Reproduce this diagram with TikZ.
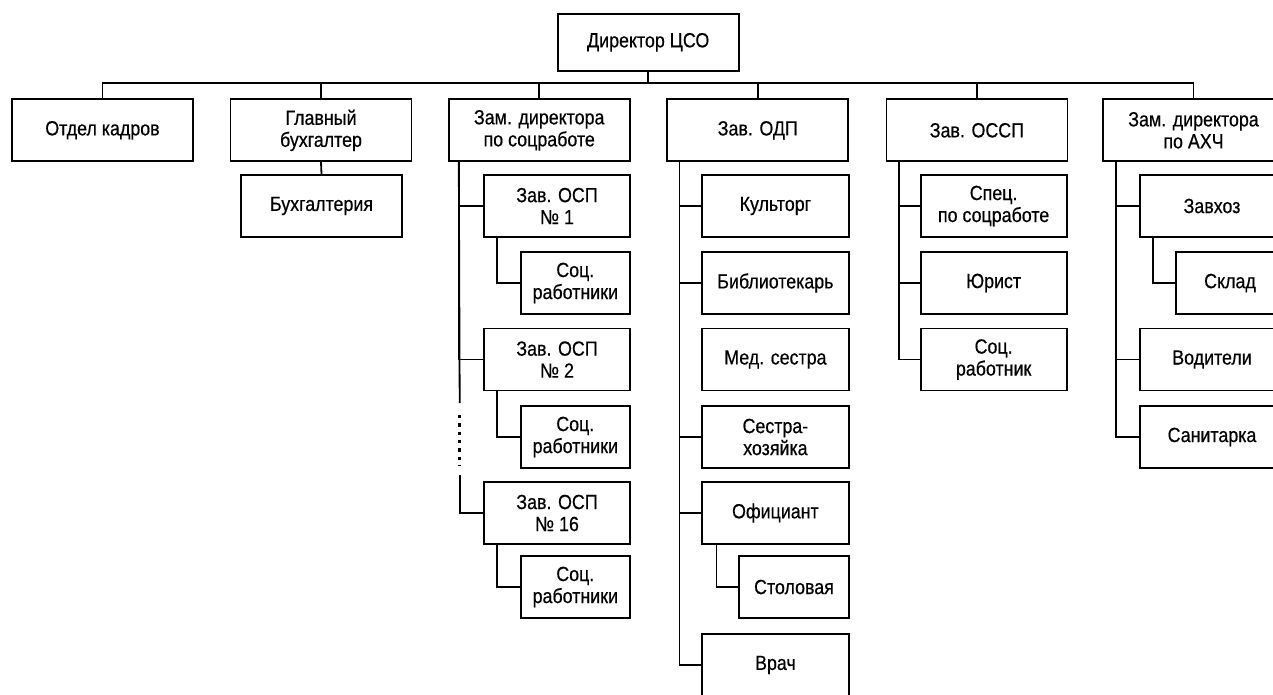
\documentclass[tikz,border=0pt]{standalone}
\usepackage{fontspec}
\setmainfont{Liberation Sans}[FakeStretch=0.87,FakeBold=0.5]
\begin{document}
\begin{tikzpicture}[x=1pt,y=-1pt,
  bx/.style={draw=black, line width=1.8pt, inner sep=0pt, align=center,
    font={\fontsize{20.5}{22}\selectfont}, minimum height=62pt},
  w1/.style={minimum width=181pt},
  w2/.style={minimum width=146pt},
  w3/.style={minimum width=109pt},
  ln/.style={line width=1.8pt},
  dots/.style={line width=2.8pt, dash pattern=on 3.3pt off 5pt}]
\useasboundingbox (0,0) rectangle (1273,694);
\clip (0,0) rectangle (1273,694);
% top
\node[bx,w1,minimum height=57pt] (dir) at (648.2,42.3) {Директор ЦСО};
% level 1
\node[bx,w1] (otdel) at (102.5,130.3) {Отдел кадров};
\node[bx,w1] (glav) at (321,130.3) {Главный\\бухгалтер};
\node[bx,w1] (zam) at (539.2,130.3) {Зам. директора\\по соцработе};
\node[bx,w1] (odp) at (757.8,130.3) {Зав. ОДП};
\node[bx,w1] (ossp) at (976.9,130.3) {Зав. ОССП};
\node[bx,w1] (axch) at (1193.5,130.3) {Зам. директора\\по АХЧ};
% accounting
\node[bx,minimum width=161pt] (buh) at (321.5,206) {Бухгалтерия};
% social work column
\node[bx,w2] (osp1) at (557,206) {Зав. ОСП\\№ 1};
\node[bx,w3] (soc1) at (575.3,283) {Соц.\\работники};
\node[bx,w2] (osp2) at (557,359.5) {Зав. ОСП\\№ 2};
\node[bx,w3] (soc2) at (575.3,437) {Соц.\\работники};
\node[bx,w2] (osp16) at (557,513) {Зав. ОСП\\№ 16};
\node[bx,w3] (soc16) at (575.3,587) {Соц.\\работники};
% ODP column
\node[bx,minimum width=147pt] (kult) at (775.4,206) {Культорг};
\node[bx,minimum width=147pt] (bibl) at (775.4,283) {Библиотекарь};
\node[bx,minimum width=147pt] (med) at (775.4,359.5) {Мед. сестра};
\node[bx,minimum width=147pt] (sestra) at (775.4,437) {Сестра-\\хозяйка};
\node[bx,minimum width=147pt] (ofic) at (775.4,513) {Официант};
\node[bx,minimum width=110pt] (stol) at (794,587) {Столовая};
\node[bx,minimum width=147pt] (vrach) at (775.4,665) {Врач};
% OSSP column
\node[bx,w2] (spec) at (993.6,206) {Спец.\\по соцработе};
\node[bx,w2] (yur) at (993.6,283) {Юрист};
\node[bx,w2] (socr) at (993.6,359.5) {Соц.\\работник};
% AXCh column
\node[bx,minimum width=144pt] (zavhoz) at (1212,206) {Завхоз};
\node[bx,minimum width=108pt] (sklad) at (1230,283) {Склад};
\node[bx,minimum width=144pt] (vodit) at (1212,359.5) {Водители};
\node[bx,minimum width=144pt] (sanit) at (1212,437) {Санитарка};
% bus
\coordinate (bus) at (0,83.3);
\draw[ln] (dir.south) -- (dir.south |- bus);
\draw[ln] (otdel.north) -- (otdel.north |- bus) -- (axch.north |- bus) -- (axch.north);
\foreach \n in {glav,zam,odp,ossp} \draw[ln] (\n.north) -- (\n.north |- bus);
\draw[ln] (glav.south) -- (buh.north);
% social work connectors
\coordinate (zamL) at ([xshift=11pt]zam.south west);
\coordinate (d1) at (459.7,403);
\coordinate (d2) at (459.7,415);
\coordinate (d3) at (459.7,466);
\coordinate (d4) at (459.7,475);
\draw[ln] (zamL) |- (osp1.west);
\draw[ln] (zamL) |- (osp2.west);
\draw[ln] (zamL) -- (d1);
\draw[dots] (d2) -- (d3);
\draw[ln] (d4) |- (osp16.west);
\foreach \a/\b in {osp1/soc1,osp2/soc2,osp16/soc16}
  \draw[ln] ([xshift=13.7pt]\a.south west) |- (\b.west);
% ODP connectors
\coordinate (odpL) at ([xshift=13pt]odp.south west);
\foreach \n in {kult,bibl,sestra,ofic,vrach} \draw[ln] (odpL) |- (\n.west);
\draw[ln] ([xshift=15.5pt]ofic.south west) |- (stol.west);
% OSSP connectors
\coordinate (osspL) at ([xshift=13.4pt]ossp.south west);
\foreach \n in {spec,yur,socr} \draw[ln] (osspL) |- (\n.west);
% AXCh connectors
\coordinate (axchL) at ([xshift=14pt]axch.south west);
\foreach \n in {zavhoz,vodit,sanit} \draw[ln] (axchL) |- (\n.west);
\draw[ln] ([xshift=14pt]zavhoz.south west) |- (sklad.west);
\end{tikzpicture}
\end{document}
